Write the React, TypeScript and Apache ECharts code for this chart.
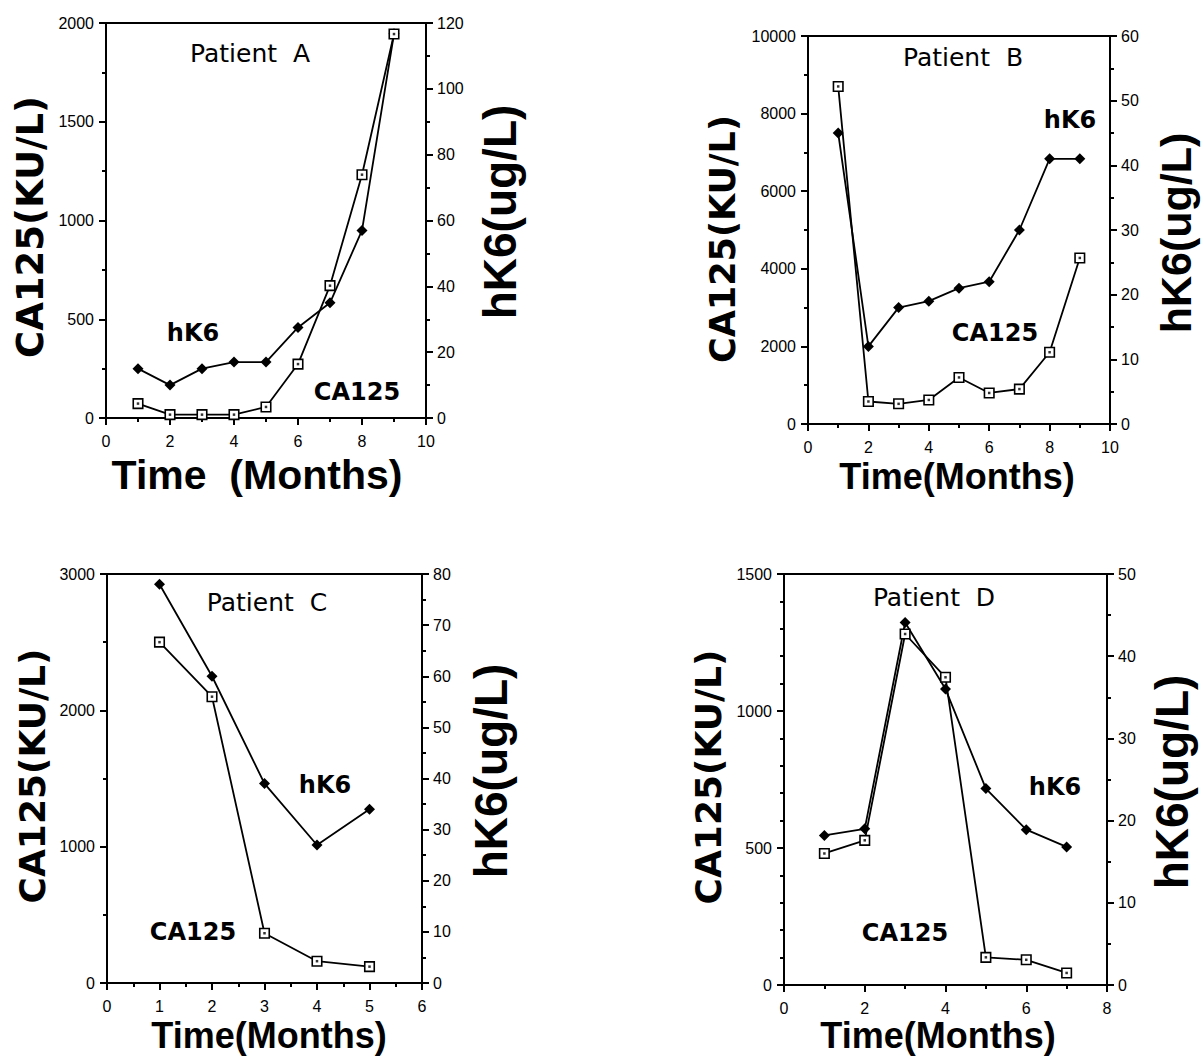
import React, { useEffect, useRef } from "react";
import * as echarts from "echarts";

// ---- Data ----
const monthsA = [1, 2, 3, 4, 5, 6, 7, 8, 9];
const ca125A = [73, 17, 17, 17, 56, 273, 670, 1232, 1944];
const hk6A = [15, 10, 15, 17, 17, 27.5, 35, 57, 116.7];

const monthsB = [1, 2, 3, 4, 5, 6, 7, 8, 9];
const ca125B = [8700, 580, 520, 620, 1200, 800, 900, 1850, 4280];
const hk6B = [45, 12, 18, 19, 21, 22, 30, 41, 41];

const monthsC = [1, 2, 3, 4, 5];
const ca125C = [2500, 2100, 365, 160, 120];
const hk6C = [78, 60, 39, 27, 34];

const monthsD = [1, 2, 3, 4, 5, 6, 7];
const ca125D = [480, 528, 1281, 1123, 101, 92, 44];
const hk6D = [18.2, 19, 44.1, 36, 23.9, 18.9, 16.8];

const patientNames = ["Patient  A", "Patient  B", "Patient  C", "Patient  D"];
const leftAxisName = "CA125(KU/L)";
const rightAxisName = "hK6(ug/L)";
const xAxisNames = ["Time  (Months)", "Time(Months)", "Time(Months)", "Time(Months)"];

// ---- Layout (positions / scales per panel) ----
const panels = [
  {
    months: monthsA, ca125: ca125A, hk6: hk6A,
    x: [0, 10, 2, 2], yl: [0, 2000, 500, 2], yr: [0, 120, 20, 2],
    grid: { left: 106, top: 23, width: 320, height: 395 },
    title: [250, 53], hk6Lbl: [193, 333], caLbl: [357, 392],
    leftName: [30, 227, 37], rightName: [500, 212, 46], xName: [257, 475, 41],
  },
  {
    months: monthsB, ca125: ca125B, hk6: hk6B,
    x: [0, 10, 2, 2], yl: [0, 10000, 2000, 2], yr: [0, 60, 10, 2],
    grid: { left: 808, top: 36, width: 302, height: 388 },
    title: [963, 57], hk6Lbl: [1070, 120], caLbl: [995, 333],
    leftName: [723, 239, 35], rightName: [1176, 233, 43], xName: [957, 476, 36],
  },
  {
    months: monthsC, ca125: ca125C, hk6: hk6C,
    x: [0, 6, 1, 2], yl: [0, 3000, 1000, 2], yr: [0, 80, 10, 2],
    grid: { left: 107, top: 574, width: 315, height: 409 },
    title: [267, 602], hk6Lbl: [325, 785], caLbl: [193, 932],
    leftName: [32, 776, 36], rightName: [491, 771, 46], xName: [269, 1035, 36],
  },
  {
    months: monthsD, ca125: ca125D, hk6: hk6D,
    x: [0, 8, 2, 2], yl: [0, 1500, 500, 5], yr: [0, 50, 10, 2],
    grid: { left: 784, top: 574, width: 323, height: 411 },
    title: [934, 597], hk6Lbl: [1055, 787], caLbl: [905, 933],
    leftName: [708, 777, 36], rightName: [1172, 782, 46], xName: [938, 1035, 36],
  },
];

const BLACK = "#000";
const tickFont = {
  color: BLACK,
  fontFamily: "Liberation Sans",
  fontSize: 16,
  formatter: (v: number) => String(v),
};

function axisCommon(minorSplit: number) {
  return {
    axisLine: { show: true, onZero: false, lineStyle: { color: BLACK, width: 2 } },
    axisTick: { show: true, inside: false, length: 7, lineStyle: { color: BLACK, width: 2 } },
    minorTick: { show: true, splitNumber: minorSplit, length: 4, lineStyle: { color: BLACK, width: 2 } },
    splitLine: { show: false },
    minorSplitLine: { show: false },
  };
}

function txt(text: string, x: number, y: number, size: number, family: string, weight: string, rot = 0) {
  return {
    type: "text",
    x,
    y,
    rotation: rot,
    z: 100,
    style: {
      text,
      fill: BLACK,
      fontSize: size,
      fontFamily: family,
      fontWeight: weight,
      textAlign: "center",
      textVerticalAlign: "middle",
      align: "center",
      verticalAlign: "middle",
    },
  };
}

function buildOption() {
  const grid: any[] = [];
  const xAxis: any[] = [];
  const yAxis: any[] = [];
  const series: any[] = [];
  const graphic: any[] = [];

  panels.forEach((p, i) => {
    grid.push({
      ...p.grid,
      show: true,
      borderColor: BLACK,
      borderWidth: 2,
      backgroundColor: "transparent",
    });
    xAxis.push({
      type: "value",
      gridIndex: i,
      min: p.x[0],
      max: p.x[1],
      interval: p.x[2],
      position: "bottom",
      ...axisCommon(p.x[3]),
      axisLabel: { ...tickFont, margin: 15 },
    });
    yAxis.push({
      type: "value",
      gridIndex: i,
      position: "left",
      min: p.yl[0],
      max: p.yl[1],
      interval: p.yl[2],
      ...axisCommon(p.yl[3]),
      axisLabel: { ...tickFont, margin: 12 },
    });
    yAxis.push({
      type: "value",
      gridIndex: i,
      position: "right",
      min: p.yr[0],
      max: p.yr[1],
      interval: p.yr[2],
      ...axisCommon(p.yr[3]),
      axisLabel: { ...tickFont, margin: 11 },
    });

    const hkData = p.months.map((m, k) => [m, p.hk6[k]]);
    const caData = p.months.map((m, k) => [m, p.ca125[k]]);

    series.push({
      type: "line",
      name: "hK6",
      xAxisIndex: i,
      yAxisIndex: 2 * i + 1,
      data: hkData,
      symbol: "diamond",
      symbolSize: 11,
      showAllSymbol: true,
      lineStyle: { color: BLACK, width: 1.8 },
      itemStyle: { color: BLACK },
      z: 2,
    });
    series.push({
      type: "line",
      name: "CA125",
      xAxisIndex: i,
      yAxisIndex: 2 * i,
      data: caData,
      symbol: "rect",
      symbolSize: 9.5,
      showAllSymbol: true,
      lineStyle: { color: BLACK, width: 1.8 },
      itemStyle: { color: "#fff", borderColor: BLACK, borderWidth: 1.6 },
      z: 3,
    });
    series.push({
      type: "scatter",
      name: "CA125 dot",
      xAxisIndex: i,
      yAxisIndex: 2 * i,
      data: caData,
      symbol: "rect",
      symbolSize: 2.5,
      itemStyle: { color: BLACK },
      silent: true,
      z: 4,
    });

    graphic.push(txt(patientNames[i], p.title[0], p.title[1], 25, "DejaVu Sans", "normal"));
    graphic.push(txt("hK6", p.hk6Lbl[0], p.hk6Lbl[1], 24, "DejaVu Sans", "bold"));
    graphic.push(txt("CA125", p.caLbl[0], p.caLbl[1], 24, "DejaVu Sans", "bold"));
    graphic.push(txt(leftAxisName, p.leftName[0], p.leftName[1], p.leftName[2], "DejaVu Sans", "bold", Math.PI / 2));
    graphic.push(txt(rightAxisName, p.rightName[0], p.rightName[1], p.rightName[2], "Liberation Sans", "bold", Math.PI / 2));
    graphic.push(txt(xAxisNames[i], p.xName[0], p.xName[1], p.xName[2], "Liberation Sans", "bold"));
  });

  return {
    animation: false,
    backgroundColor: "#fff",
    grid,
    xAxis,
    yAxis,
    series,
    graphic: { elements: graphic },
  };
}

export default function App() {
  const ref = useRef<HTMLDivElement | null>(null);
  useEffect(() => {
    document.body.style.margin = "0";
    if (!ref.current) return;
    const chart = echarts.init(ref.current, undefined, { renderer: "svg" });
    chart.setOption(buildOption() as any);
    return () => {
      chart.dispose();
    };
  }, []);
  return <div ref={ref} style={{ width: 1201, height: 1057 }} />;
}
